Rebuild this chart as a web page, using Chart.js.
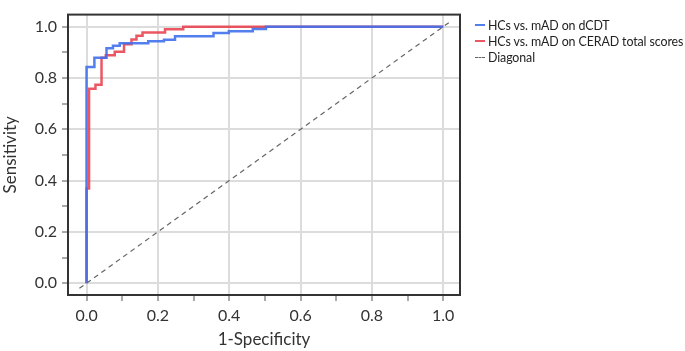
<!DOCTYPE html>
<html>
<head>
<meta charset="utf-8">
<script src="https://cdn.jsdelivr.net/npm/chart.js@4.4.1/dist/chart.umd.min.js"></script>
<style>
  html, body { margin: 0; padding: 0; background: #fff; }
  #wrap { position: relative; width: 685px; height: 351px; }
  #legend { position: absolute; left: 475px; top: 17px; font: 12.4px Lato, sans-serif; letter-spacing: -0.1px; color: #222; }
  .item { display: flex; align-items: center; height: 16px; white-space: nowrap; }
  .swatch { width: 10px; height: 0; border-top: 2px solid; margin-right: 3px; }
</style>
</head>
<body>
<div id="wrap">
  <canvas id="rocChart" width="685" height="351"></canvas>
  <div id="legend"></div>
</div>
<script>
// series names
const seriesNames = ['HCs vs. mAD on dCDT', 'HCs vs. mAD on CERAD total scores', 'Diagonal'];

// ROC corners (1-specificity, sensitivity)
const dcdtFpr = [0, 0, 0.022, 0.056, 0.074, 0.093, 0.173, 0.217, 0.248, 0.356, 0.399, 0.466, 0.503, 1.0];
const dcdtTpr = [0, 0.843, 0.879, 0.916, 0.926, 0.935, 0.943, 0.949, 0.963, 0.975, 0.982, 0.991, 1.0, 1.0];

const ceradFpr = [0, 0, 0.007, 0.025, 0.042, 0.054, 0.079, 0.105, 0.126, 0.14, 0.157, 0.22, 0.271, 1.0];
const ceradTpr = [0, 0.369, 0.758, 0.774, 0.879, 0.889, 0.902, 0.931, 0.95, 0.965, 0.977, 0.99, 1.0, 1.0];

const diagX = [-0.02, 1.02];
const diagY = [-0.02, 1.02];

// ticks: every 0.1, labels only on 0.2 steps
const tickValues = [0, 0.1, 0.2, 0.3, 0.4, 0.5, 0.6, 0.7, 0.8, 0.9, 1.0];
const tickLabels = ['0.0', '', '0.2', '', '0.4', '', '0.6', '', '0.8', '', '1.0'];

const colors = ['rgba(64, 112, 236, 0.9)', 'rgba(232, 58, 70, 0.85)', '#666'];
const dashes = [[], [], [5, 4]];

function toPoints(xs, ys) {
  return xs.map((x, i) => ({ x: x, y: ys[i] }));
}

// box around the plot area (top and right sides too)
const frame = {
  id: 'frame',
  afterDraw(chart) {
    const { ctx, chartArea: a } = chart;
    ctx.save();
    ctx.strokeStyle = '#333';
    ctx.lineWidth = 2;
    ctx.strokeRect(a.left, a.top, a.right - a.left, a.bottom - a.top);
    ctx.restore();
  }
};

function axis(min, max, title, isX) {
  return {
    type: 'linear',
    min: min,
    max: max,
    afterBuildTicks: (s) => { s.ticks = tickValues.map(v => ({ value: v })); },
    afterFit: (s) => {
      if (isX) s.height = 56; else s.width = 68;
    },
    border: { display: true, color: '#333', width: 2 },
    grid: {
      color: (c) => (c.index % 2 === 0 ? '#dcdcdc' : 'rgba(0,0,0,0)'),
      lineWidth: 2,
      tickColor: '#555',
      tickWidth: 1,
      tickLength: 6
    },
    ticks: {
      autoSkip: false,
      maxRotation: 0,
      padding: isX ? 5 : 5,
      color: '#333',
      font: { family: 'Lato', size: 16 },
      callback: (v, i) => tickLabels[i]
    },
    title: {
      display: true,
      text: title,
      color: '#333',
      font: { family: 'Lato', size: 17 },
      padding: { top: 0, bottom: 1 }
    }
  };
}

const chart = new Chart(document.getElementById('rocChart'), {
  type: 'line',
  data: {
    datasets: [
      {
        label: seriesNames[0],
        data: toPoints(dcdtFpr, dcdtTpr),
        borderColor: colors[0],
        borderWidth: 2.5,
        stepped: true,
        pointRadius: 0
      },
      {
        label: seriesNames[1],
        data: toPoints(ceradFpr, ceradTpr),
        borderColor: colors[1],
        borderWidth: 2.5,
        stepped: true,
        pointRadius: 0
      },
      {
        label: seriesNames[2],
        data: toPoints(diagX, diagY),
        borderColor: colors[2],
        borderWidth: 1.2,
        borderDash: dashes[2],
        pointRadius: 0
      }
    ]
  },
  options: {
    responsive: false,
    animation: false,
    layout: { padding: { top: 3, right: 225, bottom: 0, left: 0 } },
    plugins: {
      legend: { display: false },
      tooltip: { enabled: false }
    },
    scales: {
      x: axis(-0.052, 1.047, '1-Specificity', true),
      y: axis(-0.046, 1.047, 'Sensitivity', false)
    }
  },
  plugins: [frame]
});

// html legend built from the datasets
document.getElementById('legend').innerHTML = chart.data.datasets.map((ds, i) => `
  <div class="item">
    <span class="swatch" style="border-top-color:${colors[i]};border-top-style:${dashes[i].length ? 'dashed' : 'solid'};border-top-width:${dashes[i].length ? 1 : 2}px"></span>
    <span>${ds.label}</span>
  </div>`).join('');
</script>
</body>
</html>
